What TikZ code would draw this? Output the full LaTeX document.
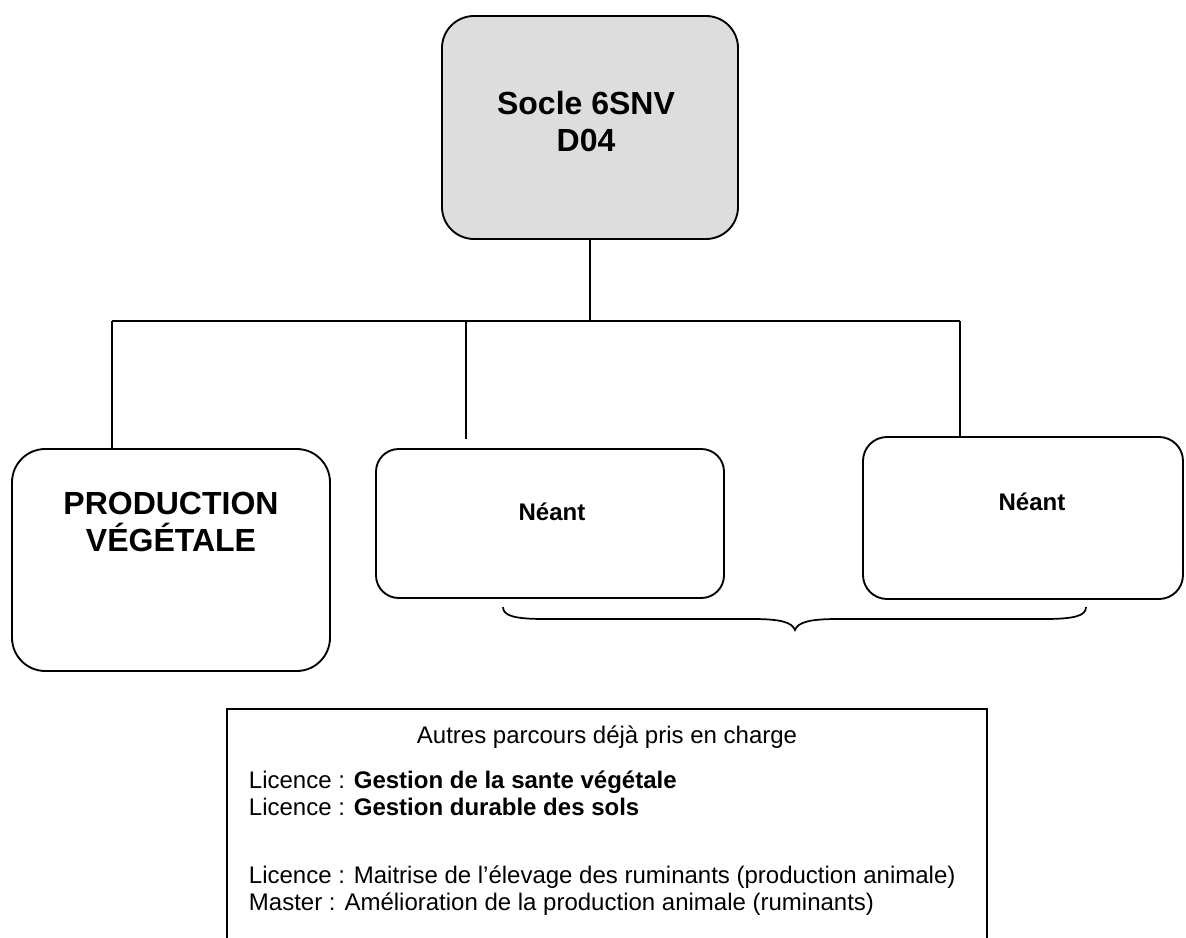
\documentclass[tikz,border=0pt]{standalone}
\usepackage{fontspec}
\setmainfont{Liberation Sans}
\usetikzlibrary{calc}
\definecolor{boxgray}{RGB}{221,221,221}
\begin{document}
\begin{tikzpicture}[x=0.75pt,y=-0.75pt,line width=1.4pt,
  rbox/.style={draw, inner sep=0pt},
  bigtxt/.style={font=\fontsize{24}{27.75}\selectfont\bfseries, align=center, inner sep=0pt},
  niltxt/.style={font=\fontsize{18}{20.7}\selectfont\bfseries, inner sep=0pt, anchor=base},
  bodytxt/.style={font=\fontsize{18}{20.7}\selectfont, inner sep=0pt, anchor=base west},
  conn/.style={draw, line width=1.4pt}]
\useasboundingbox (0,0) rectangle (1186,938);
\clip (0,0) rectangle (1186,938);
% boxes
\node[rbox, fill=boxgray, rounded corners=24pt, minimum width=222pt, minimum height=167.25pt] (top) at (590,127.5) {};
\node[bigtxt] (toptxt) at (586,122) {Socle 6SNV\\D04};
\node[rbox, rounded corners=25pt, minimum width=238.5pt, minimum height=166.5pt] (b1) at (171,560) {};
\node[bigtxt] (b1txt) at (171,522) {PRODUCTION\\VÉGÉTALE};
\node[rbox, rounded corners=17pt, minimum width=261pt, minimum height=111.75pt] (b2) at (550,523.5) {};
\node[niltxt] (b2txt) at (552,520) {Néant};
\node[rbox, rounded corners=18pt, minimum width=240pt, minimum height=121.5pt] (b3) at (1023,518) {};
\node[niltxt] (b3txt) at (1032,510) {Néant};
% connectors
\coordinate (hl) at (112,321);
\coordinate (hr) at (960,321);
\coordinate (hm) at (466,321);
\coordinate (hmend) at (466,439);
\draw[conn] (top.south) -- (top.south |- hl);
\draw[conn] (hl) -- (hr);
\draw[conn] (hl) -- (hl |- b1.north);
\draw[conn] (hm) -- (hmend);
\draw[conn] (hr) -- (hr |- b3.north);
% brace
\coordinate (brl) at (503,607);
\coordinate (brr) at (1086,607);
\coordinate (brtip) at (795,630);
\draw[line width=1.3pt] (brl) .. controls (503,616) and (515,619) .. (545,619) -- (752,619)
  .. controls (780,619) and (792,622) .. (brtip)
  .. controls (798,622) and (810,619) .. (838,619) -- (1044,619)
  .. controls (1074,619) and (1086,616) .. (brr);
% info frame (bottom edge lies below the picture)
\coordinate (itl) at (227,709);
\coordinate (itr) at (987,709);
\coordinate (ibot) at (0,938);
\draw[line width=1.4pt] (itl |- ibot) -- (itl) -- (itr) -- (itr |- ibot);
\node[font=\fontsize{18}{20.7}\selectfont, inner sep=0pt, anchor=base] (ihead) at (607,743) {Autres parcours déjà pris en charge};
\node[bodytxt] (il1) at (248,788) {Licence : \textbf{Gestion de la sante végétale}};
\node[bodytxt] (il2) at (248,815) {Licence : \textbf{Gestion durable des sols}};
\node[bodytxt] (il3) at (248,883) {Licence : Maitrise de l’élevage des ruminants (production animale)};
\node[bodytxt] (il4) at (248,910) {Master : Amélioration de la production animale (ruminants)};
\end{tikzpicture}
\end{document}
